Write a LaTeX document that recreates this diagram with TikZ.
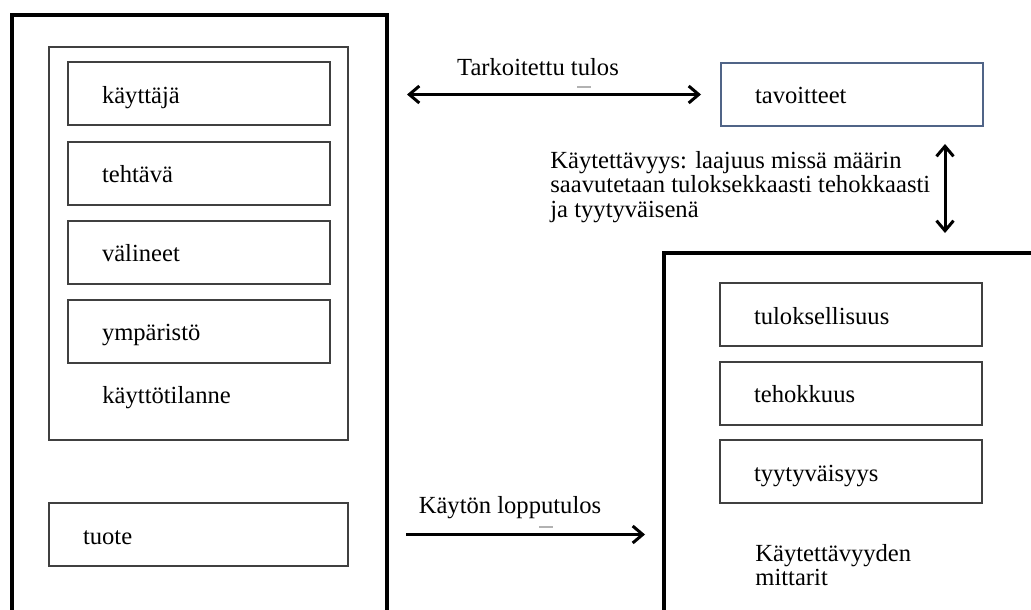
\documentclass[tikz,border=0pt]{standalone}
\usepackage{fontspec}
\setmainfont{Liberation Serif}
\usetikzlibrary{arrows.meta, positioning}
\definecolor{tavblue}{RGB}{80,100,135}
\tikzset{
  bigbox/.style={draw, rectangle, line width=2pt},
  midbox/.style={draw=black!75, rectangle, line width=1pt},
  itembox/.style={draw=black!75, rectangle, line width=1pt, minimum height=31.5pt, text width=97pt, text height=9.5pt, text depth=0pt, inner xsep=17pt, align=left},
  lbl/.style={inner sep=0pt, align=left, anchor=west},
  arr/.style={line width=1.5pt},
  >={Straight Barb[length=5pt, width=8.5pt]}
}

\begin{document}
\begin{tikzpicture}[x=0.5pt, y=-0.5pt, font=\fontsize{12.3pt}{12.3pt}\selectfont]
\clip (0,0) rectangle (1031,609);
% Left side: system
\node[bigbox, minimum width=187.5pt, minimum height=322.5pt] (system) at (199.5,337.5) {};
\node[midbox, minimum width=149.5pt, minimum height=196.5pt] (tilanne) at (198.5,243.5) {};
\node[itembox] (kayttaja) at (199,94) {käyttäjä};
\node[itembox] (tehtava) at (199,173.5) {tehtävä};
\node[itembox] (valineet) at (199,252) {välineet};
\node[itembox] (ymparisto) at (199,331) {ympäristö};
\node[lbl] (tilannelbl) at (102,398) {käyttötilanne};
\node[itembox, text width=115.5pt] (tuote) at (198.5,534.5) {tuote};
%
% Right side: goals and measures
\node[itembox, draw=tavblue] (tavoitteet) at (852,94.5) {tavoitteet};
\node[bigbox, minimum width=218pt, minimum height=223.5pt] (mittarit) at (882,476.5) {};
\node[itembox] (tuloksellisuus) at (851,314.5) {tuloksellisuus};
\node[itembox] (tehokkuus) at (851,393) {tehokkuus};
\node[itembox] (tyytyvaisyys) at (851,471.5) {tyytyväisyys};
\node[lbl] (mittarilbl) at (755,565) {Käytettävyyden\\mittarit};
%
% Arrows and their labels
\draw[arr, <->, shorten <=9pt, shorten >=9.5pt] (tavoitteet.west -| system.east) -- (tavoitteet.west);
\node[lbl, anchor=center] (tarkoitettu) at (538,67) {Tarkoitettu tulos};
\draw[gray!60, line width=0.6pt] (577,87) -- (591,87); % small mark
\draw[arr, <->, shorten <=8.5pt, shorten >=9pt] ([xshift=46.5pt]tavoitteet.south) -- ([xshift=46.5pt]tavoitteet.south |- mittarit.north);
\node[lbl] (kaytettavyys) at (550,187) {Käytettävyys: laajuus missä määrin\\saavutetaan tuloksekkaasti tehokkaasti\\ja tyytyväisenä};
\draw[arr, ->, shorten <=8.5pt, shorten >=8.5pt] (tuote.east -| system.east) -- (tuote.east -| mittarit.west);
\node[lbl, anchor=center] (lopputulos) at (510,508) {Käytön lopputulos};
\draw[gray!60, line width=0.6pt] (539,527) -- (553,527); % small mark
\end{tikzpicture}
\end{document}
